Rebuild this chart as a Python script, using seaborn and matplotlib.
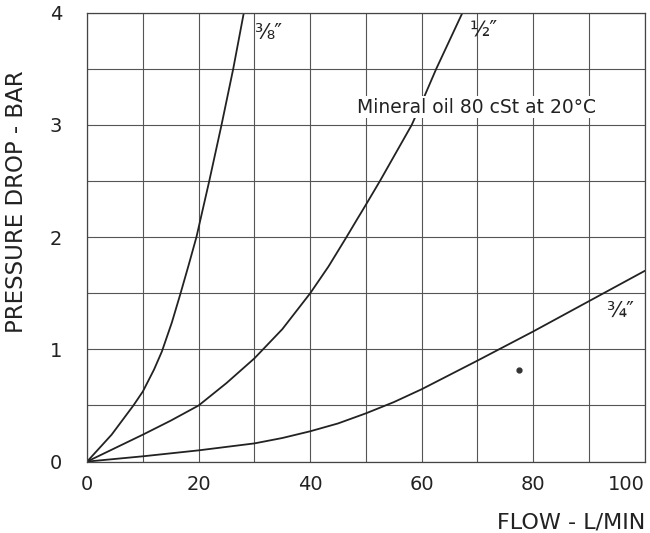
import numpy as np
import pandas as pd
from matplotlib import pyplot as plt
from matplotlib.ticker import MultipleLocator
import seaborn as sns

# curves (flow L/min, pressure drop bar)
flow_38 = [0, 4.4, 8.3, 10, 12.0, 13.4, 15.2, 16.7, 18.2, 19.6, 21.9, 24.1, 26.2, 28.1]
drop_38 = [0, 0.24, 0.5, 0.625, 0.82, 0.98, 1.24, 1.49, 1.75, 2.0, 2.5, 3.0, 3.5, 4.0]

flow_12 = [0, 10, 15, 20, 25, 30, 35, 40, 43.3, 46.5, 48.3, 50, 52.5, 58.2, 60, 62.6, 67.3]
drop_12 = [0, 0.24, 0.365, 0.5, 0.70, 0.92, 1.18, 1.5, 1.74, 2.0, 2.15, 2.29, 2.5, 3.0, 3.2, 3.5, 4.0]

flow_34 = [0, 10, 20, 30, 35, 40, 45, 50, 55, 60, 70, 80, 90, 100]
drop_34 = [0, 0.047, 0.1, 0.162, 0.21, 0.27, 0.34, 0.43, 0.53, 0.645, 0.90, 1.16, 1.43, 1.70]

sizes = ['⅜″', '½″', '¾″']
label_flow = [29.9, 68.6, 93.1]
label_drop = [3.82, 3.85, 1.34]

flow_ticks = [0, 20, 40, 60, 80, 100]
drop_ticks = [0, 1, 2, 3, 4]

df = pd.concat([
    pd.DataFrame({'flow': flow_38, 'drop': drop_38, 'size': sizes[0]}),
    pd.DataFrame({'flow': flow_12, 'drop': drop_12, 'size': sizes[1]}),
    pd.DataFrame({'flow': flow_34, 'drop': drop_34, 'size': sizes[2]}),
])

sns.set_style('white')
plt.rcParams['font.family'] = ['DejaVu Sans']
ink = '#222222'

fig = plt.figure(figsize=(6.5, 5.33), dpi=100)
ax = fig.add_axes([0.134, 0.134, 0.858, 0.842])

sns.lineplot(data=df, x='flow', y='drop', units='size', estimator=None,
             sort=False, color=ink, linewidth=1.3, ax=ax)

ax.set_xlim(0, 100)
ax.set_ylim(0, 4)
ax.set_xticks(flow_ticks)
ax.set_yticks(drop_ticks)
ax.xaxis.set_minor_locator(MultipleLocator(10))
ax.yaxis.set_minor_locator(MultipleLocator(0.5))
ax.grid(True, which='both', color='#555555', linewidth=0.8)
ax.set_axisbelow(True)
for s in ax.spines.values():
    s.set_color('#444444')
    s.set_linewidth(0.9)

ax.tick_params(axis='both', which='major', length=4, color='#444444',
               labelsize=14, labelcolor=ink)
ax.tick_params(axis='x', which='major', pad=6)
ax.tick_params(axis='y', which='major', pad=14)
ax.tick_params(which='minor', length=0)
ax.get_xticklabels()[-1].set_ha('right')
ax.get_xticklabels()[-1].set_x(100)

ax.set_xlabel('FLOW - L/MIN', fontsize=16, color=ink, ha='right')
ax.xaxis.set_label_coords(1.0, -0.113)
ax.set_ylabel('PRESSURE DROP - BAR', fontsize=16.5, color=ink)
ax.yaxis.set_label_coords(-0.106, 0.579)

for name, lx, ly in zip(sizes, label_flow, label_drop):
    ax.text(lx, ly, name, fontsize=15, color=ink, va='center', ha='left')

ax.text(48.4, 3.16, 'Mineral oil 80 cSt at 20°C', fontsize=13.5, color=ink,
        va='center', ha='left',
        bbox=dict(facecolor='white', edgecolor='none', pad=1.0))

# small smudge from the scan
ax.plot([77.5], [0.82], 'o', color='#333333', markersize=3.5)

plt.savefig('out.png', dpi=100)
